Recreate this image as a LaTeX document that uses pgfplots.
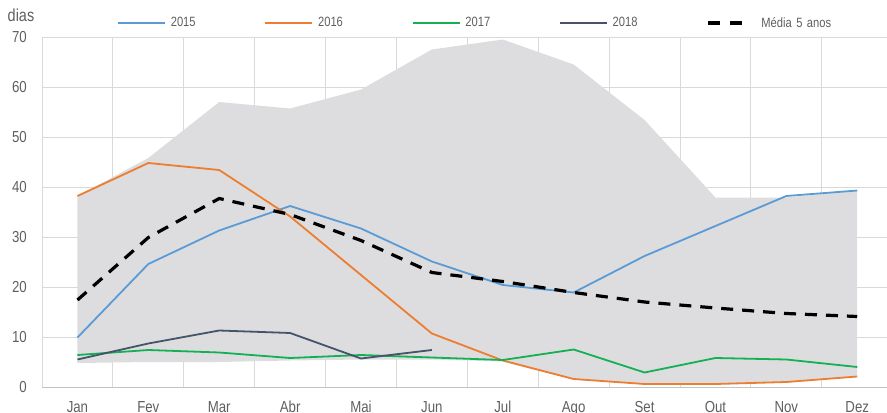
\documentclass[border=0pt]{standalone}
\usepackage{pgfplots}
\pgfplotsset{compat=1.18}
\usepackage{fontspec}
\setmainfont[FakeStretch=0.83]{Liberation Sans}
\definecolor{bandgray}{RGB}{221,221,223}
\definecolor{gridgray}{RGB}{217,217,217}
\definecolor{axisgray}{RGB}{195,195,195}
\definecolor{txtgray}{RGB}{95,95,95}
\definecolor{c15}{RGB}{91,155,213}
\definecolor{c16}{RGB}{237,125,49}
\definecolor{c17}{RGB}{20,176,84}
\definecolor{c18}{RGB}{68,84,106}
\begin{document}
\begin{tikzpicture}
\begin{axis}[
  at={(0,0)}, anchor=south west,
  scale only axis, width=845bp, height=350bp,
  xmin=-0.5, xmax=11.42, ymin=0, ymax=70,
  xtick={0,...,11},
  xticklabels={Jan,Fev,Mar,Abr,Mai,Jun,Jul,Ago,Set,Out,Nov,Dez},
  minor xtick={-0.5,0.5,...,11.5},
  ytick={0,10,...,70},
  xminorgrids=true, ymajorgrids=true, xmajorgrids=false,
  grid style={draw=gridgray, line width=0.9bp},
  minor grid style={draw=gridgray, line width=0.9bp},
  extra y ticks={0}, extra y tick labels={},
  extra y tick style={grid style={draw=axisgray, line width=1bp}},
  axis line style={draw=none},
  major tick length=0pt, minor tick length=0pt,
  tick style={draw=none},
  /pgf/number format/assume math mode=true,
  ticklabel style={font=\fontsize{16}{16}\selectfont, text=txtgray, inner sep=0pt},
  yticklabel style={anchor=east, xshift=-15bp},
  xticklabel style={anchor=north, text height=11.5bp, text depth=0pt, yshift=-14bp},
  legend columns=5,
  legend style={draw=none, fill=none, inner sep=0pt, outer sep=0pt,
    at={(0.08876,1.04)}, anchor=west,
    font=\fontsize{13.5}{13.5}\selectfont, text=txtgray,
    nodes={text width=93.5bp, align=left, inner sep=0pt},
    column sep=0pt,
    /tikz/every odd column/.append style={column sep=5bp}},
  legend image code/.code={\draw[#1] (0bp,0bp) -- (47bp,0bp);},
  clip=true,
]
\addplot[fill=bandgray, draw=none, forget plot] coordinates {
 (0,38.2) (1,45.8) (2,57.0) (3,55.7) (4,59.5) (5,67.5) (6,69.5) (7,64.5) (8,53.4) (9,37.9) (10,37.9) (11,39.3)
 (11,2.0) (10,0.9) (9,0.5) (8,0.5) (7,1.5) (6,5.1) (5,5.5) (4,5.5) (3,5.3) (2,5.0) (1,5.0) (0,4.8)
} -- cycle;
\addplot[c15, line width=1.8bp] coordinates {
 (0,9.9) (1,24.6) (2,31.3) (3,36.2) (4,31.7) (5,25.1) (6,20.4) (7,18.9) (8,26.2) (9,32.2) (10,38.2) (11,39.3)};
\addlegendentry{2015}
\addplot[c16, line width=1.8bp] coordinates {
 (0,38.2) (1,44.8) (2,43.4) (3,34.1) (4,22.4) (5,10.7) (6,5.3) (7,1.6) (8,0.6) (9,0.6) (10,1.0) (11,2.1)};
\addlegendentry{2016}
\addplot[c17, line width=1.8bp] coordinates {
 (0,6.4) (1,7.4) (2,6.9) (3,5.8) (4,6.4) (5,5.9) (6,5.4) (7,7.5) (8,2.9) (9,5.8) (10,5.5) (11,4.0)};
\addlegendentry{2017}
\addplot[c18, line width=1.8bp] coordinates {
 (0,5.5) (1,8.7) (2,11.3) (3,10.8) (4,5.7) (5,7.4)};
\addlegendentry{2018}
\addplot[black, line width=3.2bp, dash pattern=on 12bp off 9bp,
  legend image code/.code={\draw[black, line width=3.2bp, dash pattern=on 12bp off 10bp on 12bp off 30bp] (0bp,0bp) -- (47bp,0bp);}] coordinates {
 (0,17.4) (1,29.9) (2,37.7) (3,34.5) (4,29.3) (5,22.9) (6,21.1) (7,18.9) (8,17.0) (9,15.8) (10,14.7) (11,14.1)};
\addlegendentry{Média 5 anos}
\end{axis}
\node[anchor=base, text=txtgray, font=\fontsize{17.5}{17.5}\selectfont, inner sep=0pt] at (-21bp,365bp) {dias};
\pgfresetboundingbox
\useasboundingbox (-42bp,-26bp) rectangle (845bp,387bp);
\end{tikzpicture}
\end{document}
